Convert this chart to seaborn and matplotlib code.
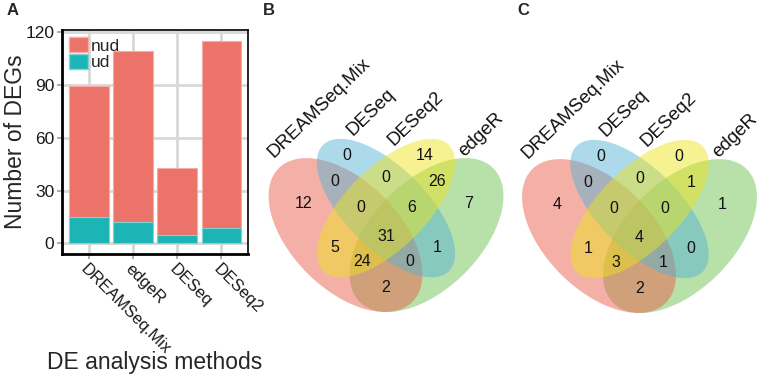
import numpy as np
import pandas as pd
import seaborn as sns
import matplotlib
matplotlib.use("Agg")
import matplotlib.pyplot as plt
from matplotlib.patches import Ellipse, Patch

# ---------------- data ----------------
methods = ["DREAMSeq.Mix", "edgeR", "DESeq", "DESeq2"]
nud_counts = [74, 97, 38, 106]
ud_counts = [15, 12, 5, 9]
y_ticks = [0, 30, 60, 90, 120]
stack_labels = ["nud", "ud"]

venn_sets = ["DREAMSeq.Mix", "DESeq", "DESeq2", "edgeR"]
# region codes: D = DREAMSeq.Mix, S = DESeq, S2 = DESeq2, E = edgeR
venn_regions = ["S", "S2", "DS", "SS2", "S2E", "D", "DSS2", "SS2E", "E",
                "DSS2E", "DS2", "SE", "DS2E", "DSE", "DE"]
venn_nud = [0, 14, 0, 0, 26, 12, 0, 6, 7, 31, 5, 1, 24, 0, 2]
venn_ud = [0, 0, 0, 0, 1, 4, 0, 0, 1, 4, 1, 0, 3, 1, 2]
panel_letters = ["A", "B", "C"]

# ---------------- style ----------------
sns.set_theme(style="white")
plt.rcParams["font.family"] = ["Liberation Sans", "DejaVu Sans"]

RED = "#EC7369"
TEAL = "#1CB5B6"
W, H = 765, 376
fig = plt.figure(figsize=(W / 100, H / 100), dpi=100)


def px_rect(x0, y0, x1, y1):
    """pixel rect (top-left origin) -> figure fraction [l, b, w, h]"""
    return [x0 / W, 1 - y1 / H, (x1 - x0) / W, (y1 - y0) / H]


# ---------------- panel A ----------------
ax = fig.add_axes(px_rect(62, 30, 248, 254))
df = pd.DataFrame({"method": methods, "nud": nud_counts, "ud": ud_counts})
df["total"] = df["nud"] + df["ud"]
sns.barplot(data=df, x="method", y="total", order=methods, color=RED,
            saturation=1, width=0.9, edgecolor="#F6ABA5", linewidth=0.8,
            ax=ax, zorder=3)
sns.barplot(data=df, x="method", y="ud", order=methods, color=TEAL,
            saturation=1, width=0.9, edgecolor="#7FD3D3", linewidth=0.8,
            ax=ax, zorder=4)
ax.set_xlim(-0.6, 3.6)
ax.set_ylim(-6, 121)
ax.set_yticks(y_ticks)
ax.set_yticklabels([str(v) for v in y_ticks], fontsize=12.5, color="#1a1a1a")
ax.set_xticks(range(len(methods)))
ax.set_xticklabels(methods, rotation=-45, ha="left", va="top",
                   rotation_mode="anchor", fontsize=12, color="#1a1a1a")
ax.set_axisbelow(True)
ax.grid(True, color="#D8D8D8", linewidth=2.0)
ax.tick_params(axis="both", length=3.5, width=1.2, color="#A0A0A0", pad=2,
               bottom=True, left=True)
ax.set_xlabel("")
ax.set_ylabel("")
for side in ["left", "bottom"]:
    ax.spines[side].set_color("black")
    ax.spines[side].set_linewidth(2.0)
for side in ["top", "right"]:
    ax.spines[side].set_color("black")
    ax.spines[side].set_linewidth(1.2)
    ax.spines[side].set_visible(True)
handles = [Patch(facecolor=RED, edgecolor="#F6ABA5", label=stack_labels[0]),
           Patch(facecolor=TEAL, edgecolor="#7FD3D3", label=stack_labels[1])]
ax.legend(handles=handles, loc="upper left", bbox_to_anchor=(0.0, 1.0),
          frameon=False, fontsize=12.5, handlelength=1.1, handleheight=1.0,
          handletextpad=0.15, labelspacing=0.0, borderpad=0.4,
          borderaxespad=0.0)
fig.text(155 / W, 1 - 363 / H, "DE analysis methods", ha="center",
         va="center", fontsize=16.5)
fig.text(16 / W, 1 - 142 / H, "Number of DEGs", ha="center", va="center",
         rotation=90, fontsize=16.5)

# ---------------- Venn panels ----------------
ellipses = [  # (x, y, a, b, angle, set index)
    (0.65, 0.47, 0.35, 0.20, 45, 3),
    (0.35, 0.47, 0.35, 0.20, 135, 0),
    (0.50, 0.57, 0.33, 0.15, 135, 1),
    (0.50, 0.57, 0.33, 0.15, 45, 2),
]
set_colors = ["#EA5A45", "#52B3D4", "#EDE41C", "#6BBF4C"]
region_pos = {
    "S": (0.355, 0.765), "S2": (0.645, 0.765),
    "DS": (0.31, 0.668), "SS2": (0.5, 0.684), "S2E": (0.69, 0.668),
    "D": (0.195, 0.588), "DSS2": (0.405, 0.573), "SS2E": (0.595, 0.573),
    "E": (0.805, 0.588), "DSS2E": (0.5, 0.464),
    "DS2": (0.31, 0.423), "SE": (0.69, 0.423),
    "DS2E": (0.413, 0.371), "DSE": (0.587, 0.371), "DE": (0.5, 0.276),
}
label_anchor = [(0.085, 0.755), (0.376, 0.838), (0.528, 0.800), (0.791, 0.757)]


def venn(cx_px, bottom_px, counts, s=270.0):
    x0, x1, y0, y1 = cx_px - 140, cx_px + 140, 30, 372
    vax = fig.add_axes(px_rect(x0, y0, x1, y1))
    vax.set_xlim(0.5 + (x0 - cx_px) / s, 0.5 + (x1 - cx_px) / s)
    vax.set_ylim(0.185 + (bottom_px - y1) / s, 0.185 + (bottom_px - y0) / s)
    vax.axis("off")
    for (x, y, a, b, ang, k) in ellipses:
        vax.add_patch(Ellipse((x, y), 2 * a, 2 * b, angle=ang,
                              facecolor=set_colors[k], alpha=0.48,
                              edgecolor="none"))
    for reg, val in zip(venn_regions, counts):
        px, py = region_pos[reg]
        vax.text(px, py, str(val), ha="center", va="center", fontsize=11.5,
                 color="#111111")
    for name, (lx, ly) in zip(venn_sets, label_anchor):
        vax.text(lx, ly, name, rotation=44, rotation_mode="anchor",
                 ha="left", va="baseline", fontsize=13.5, color="#111111")
    return vax


venn(386, 312, venn_nud)
venn(639.5, 313, venn_ud)

for letter, xp in zip(panel_letters, [7, 263, 517]):
    fig.text(xp / W, 1 - 3 / H, letter, ha="left", va="top",
             fontsize=12, fontweight="bold")

fig.savefig("out.png", dpi=100)
